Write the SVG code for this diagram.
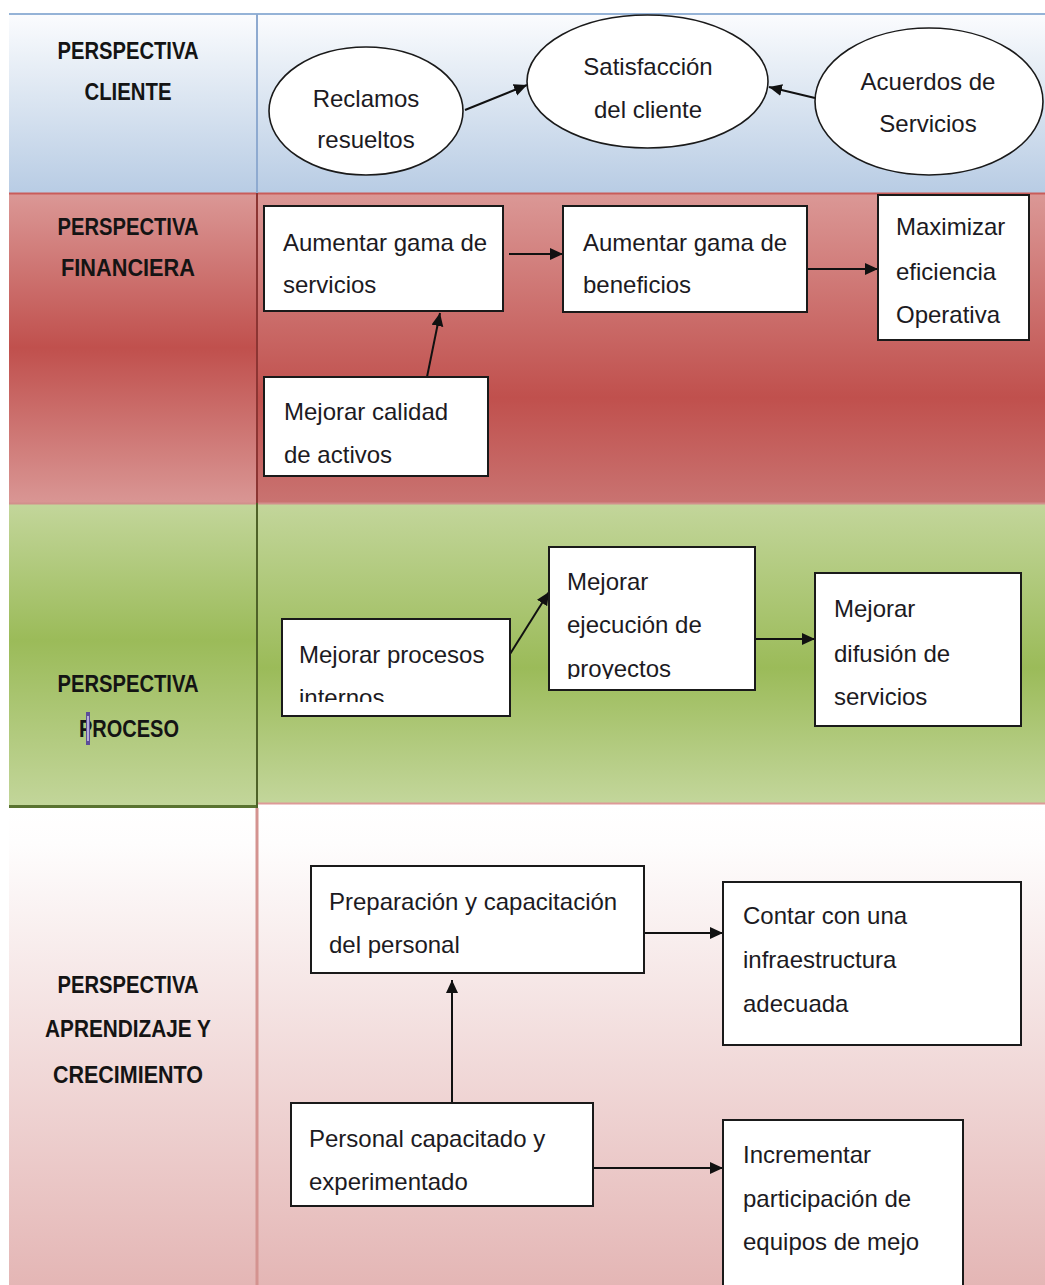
<svg xmlns="http://www.w3.org/2000/svg" width="1045" height="1285" viewBox="0 0 1045 1285">
<defs>
<style>
.box{fill:#ffffff;stroke:#1a1a1a;stroke-width:2}
.ell{fill:#ffffff;stroke:#1a1a1a;stroke-width:1.6}
.t{font-family:"Liberation Sans",Arial,sans-serif;font-size:24px;fill:#1c1a22}
.tc{text-anchor:middle}
.lab{font-family:"Liberation Sans",Arial,sans-serif;font-size:24px;font-weight:bold;fill:#141414;text-anchor:middle}
.con{fill:none;stroke:#111111;stroke-width:2;marker-end:url(#ah)}
</style>
<marker id="ah" markerUnits="userSpaceOnUse" markerWidth="14" markerHeight="13" refX="13" refY="6" orient="auto">
<path d="M0,0 L13,6 L0,12 z" fill="#111111"/>
</marker>
<linearGradient id="gBlue" gradientUnits="userSpaceOnUse" x1="0" y1="14" x2="0" y2="193">
<stop offset="0" stop-color="#fbfcfe"/>
<stop offset="0.25" stop-color="#eaf0f7"/>
<stop offset="1" stop-color="#b8cce4"/>
</linearGradient>
<linearGradient id="gRedL" gradientUnits="userSpaceOnUse" x1="0" y1="193" x2="0" y2="503">
<stop offset="0" stop-color="#db9896"/>
<stop offset="0.5" stop-color="#c0504d"/>
<stop offset="1" stop-color="#d99694"/>
</linearGradient>
<linearGradient id="gRedR" gradientUnits="userSpaceOnUse" x1="0" y1="193" x2="0" y2="503">
<stop offset="0" stop-color="#db9896"/>
<stop offset="0.66" stop-color="#c0504d"/>
<stop offset="1" stop-color="#c97371"/>
</linearGradient>
<linearGradient id="gGreenL" gradientUnits="userSpaceOnUse" x1="0" y1="503" x2="0" y2="808">
<stop offset="0" stop-color="#c3d69b"/>
<stop offset="0.45" stop-color="#9bbb59"/>
<stop offset="1" stop-color="#c3d69b"/>
</linearGradient>
<linearGradient id="gGreenR" gradientUnits="userSpaceOnUse" x1="0" y1="503" x2="0" y2="803">
<stop offset="0" stop-color="#c3d69b"/>
<stop offset="0.55" stop-color="#9bbb59"/>
<stop offset="1" stop-color="#c3d69b"/>
</linearGradient>
<linearGradient id="gPink" gradientUnits="userSpaceOnUse" x1="0" y1="805" x2="0" y2="1285">
<stop offset="0" stop-color="#ffffff"/>
<stop offset="0.08" stop-color="#fefdfd"/>
<stop offset="1" stop-color="#e4b6b5"/>
</linearGradient>
<clipPath id="clipInt"><rect x="283" y="620" width="226" height="82"/></clipPath>
<clipPath id="clipEje"><rect x="550" y="548" width="205" height="131"/></clipPath>
</defs>

<rect x="0" y="0" width="1045" height="1285" fill="#ffffff"/>

<g id="bands">
<rect x="9" y="14" width="1036" height="179" fill="url(#gBlue)"/>
<line x1="9" y1="14" x2="1045" y2="14" stroke="#95b3d7" stroke-width="2"/>
<rect x="9" y="193" width="248" height="310" fill="url(#gRedL)"/>
<rect x="257" y="193" width="788" height="310" fill="url(#gRedR)"/>
<line x1="9" y1="193.5" x2="1045" y2="193.5" stroke="#c95c5a" stroke-width="2"/>
<rect x="9" y="503" width="248" height="305" fill="url(#gGreenL)"/>
<rect x="257" y="503" width="788" height="300" fill="url(#gGreenR)"/>
<line x1="9" y1="503.5" x2="1045" y2="503.5" stroke="#d28f8c" stroke-width="2"/>
<rect x="9" y="808" width="248" height="477" fill="url(#gPink)"/>
<rect x="257" y="803" width="788" height="482" fill="url(#gPink)"/>
<line x1="257" y1="803.5" x2="1045" y2="803.5" stroke="#dd9a98" stroke-width="2"/>
<line x1="9" y1="806.5" x2="257" y2="806.5" stroke="#5a7330" stroke-width="3"/>
<line x1="257" y1="14" x2="257" y2="193" stroke="#8eaad0" stroke-width="2"/>
<line x1="257" y1="193" x2="257" y2="503" stroke="#8c3533" stroke-width="2"/>
<line x1="257" y1="503" x2="257" y2="808" stroke="#4f6228" stroke-width="2"/>
<line x1="257" y1="808" x2="257" y2="1285" stroke="#d49390" stroke-width="3"/>
</g>

<g id="labels">
<text class="lab" x="128" y="59" textLength="141" lengthAdjust="spacingAndGlyphs">PERSPECTIVA</text>
<text class="lab" x="128" y="100" textLength="87" lengthAdjust="spacingAndGlyphs">CLIENTE</text>
<text class="lab" x="128" y="235" textLength="141" lengthAdjust="spacingAndGlyphs">PERSPECTIVA</text>
<text class="lab" x="128" y="276" textLength="134" lengthAdjust="spacingAndGlyphs">FINANCIERA</text>
<text class="lab" x="128" y="692" textLength="141" lengthAdjust="spacingAndGlyphs">PERSPECTIVA</text>
<text class="lab" x="129" y="737" textLength="100" lengthAdjust="spacingAndGlyphs">PROCESO</text>
<rect x="86" y="712" width="4" height="33" fill="#5b4d99"/>
<rect x="87.3" y="716" width="1.4" height="25" fill="#dcd8f0"/>
<text class="lab" x="128" y="993" textLength="141" lengthAdjust="spacingAndGlyphs">PERSPECTIVA</text>
<text class="lab" x="128" y="1037" textLength="166" lengthAdjust="spacingAndGlyphs">APRENDIZAJE Y</text>
<text class="lab" x="128" y="1083" textLength="150" lengthAdjust="spacingAndGlyphs">CRECIMIENTO</text>
</g>

<g id="connectors">
<line class="con" x1="465" y1="110" x2="527" y2="85"/>
<line class="con" x1="815" y1="98" x2="769" y2="87"/>
<line class="con" x1="509" y1="254" x2="563" y2="254"/>
<line class="con" x1="807" y1="269" x2="878" y2="269"/>
<line class="con" x1="427" y1="377" x2="440" y2="313"/>
<line class="con" x1="510" y1="654" x2="549" y2="592"/>
<line class="con" x1="756" y1="639" x2="815" y2="639"/>
<line class="con" x1="645" y1="933" x2="723" y2="933"/>
<line class="con" x1="452" y1="1103" x2="452" y2="980"/>
<line class="con" x1="593" y1="1168" x2="723" y2="1168"/>
</g>

<g id="n-reclamos">
<ellipse class="ell" cx="366" cy="111" rx="97" ry="64"/>
<text class="t tc" x="366" y="107">Reclamos</text>
<text class="t tc" x="366" y="148">resueltos</text>
</g>
<g id="n-satisfaccion">
<ellipse class="ell" cx="647.5" cy="81.5" rx="120.5" ry="66.5"/>
<text class="t tc" x="648" y="75">Satisfacción</text>
<text class="t tc" x="648" y="118">del cliente</text>
</g>
<g id="n-acuerdos">
<ellipse class="ell" cx="929" cy="101.5" rx="114" ry="73.5"/>
<text class="t tc" x="928" y="90">Acuerdos de</text>
<text class="t tc" x="928" y="132">Servicios</text>
</g>

<g id="n-aum-servicios">
<rect class="box" x="264" y="206" width="239" height="105"/>
<text class="t" x="283" y="251">Aumentar gama de</text>
<text class="t" x="283" y="293">servicios</text>
</g>
<g id="n-aum-beneficios">
<rect class="box" x="563" y="206" width="244" height="106"/>
<text class="t" x="583" y="251">Aumentar gama de</text>
<text class="t" x="583" y="293">beneficios</text>
</g>
<g id="n-maximizar">
<rect class="box" x="878" y="195" width="151" height="145"/>
<text class="t" x="896" y="235">Maximizar</text>
<text class="t" x="896" y="280">eficiencia</text>
<text class="t" x="896" y="323">Operativa</text>
</g>
<g id="n-calidad">
<rect class="box" x="264" y="377" width="224" height="99"/>
<text class="t" x="284" y="420">Mejorar calidad</text>
<text class="t" x="284" y="463">de activos</text>
</g>

<g id="n-internos">
<rect class="box" x="282" y="619" width="228" height="97"/>
<g clip-path="url(#clipInt)">
<text class="t" x="299" y="663">Mejorar procesos</text>
<text class="t" x="299" y="706">internos</text>
</g>
</g>
<g id="n-ejecucion">
<rect class="box" x="549" y="547" width="206" height="143"/>
<g clip-path="url(#clipEje)">
<text class="t" x="567" y="590">Mejorar</text>
<text class="t" x="567" y="633">ejecución de</text>
<text class="t" x="567" y="677">proyectos</text>
</g>
</g>
<g id="n-difusion">
<rect class="box" x="815" y="573" width="206" height="153"/>
<text class="t" x="834" y="617">Mejorar</text>
<text class="t" x="834" y="662">difusión de</text>
<text class="t" x="834" y="705">servicios</text>
</g>

<g id="n-preparacion">
<rect class="box" x="311" y="866" width="333" height="107"/>
<text class="t" x="329" y="910">Preparación y capacitación</text>
<text class="t" x="329" y="953">del personal</text>
</g>
<g id="n-contar">
<rect class="box" x="723" y="882" width="298" height="163"/>
<text class="t" x="743" y="924">Contar con una</text>
<text class="t" x="743" y="968">infraestructura</text>
<text class="t" x="743" y="1012">adecuada</text>
</g>
<g id="n-personal">
<rect class="box" x="291" y="1103" width="302" height="103"/>
<text class="t" x="309" y="1147">Personal capacitado y</text>
<text class="t" x="309" y="1190">experimentado</text>
</g>
<g id="n-incrementar">
<rect class="box" x="723" y="1120" width="240" height="175"/>
<text class="t" x="743" y="1163">Incrementar</text>
<text class="t" x="743" y="1207">participación de</text>
<text class="t" x="743" y="1250">equipos de mejo</text>
</g>
</svg>
